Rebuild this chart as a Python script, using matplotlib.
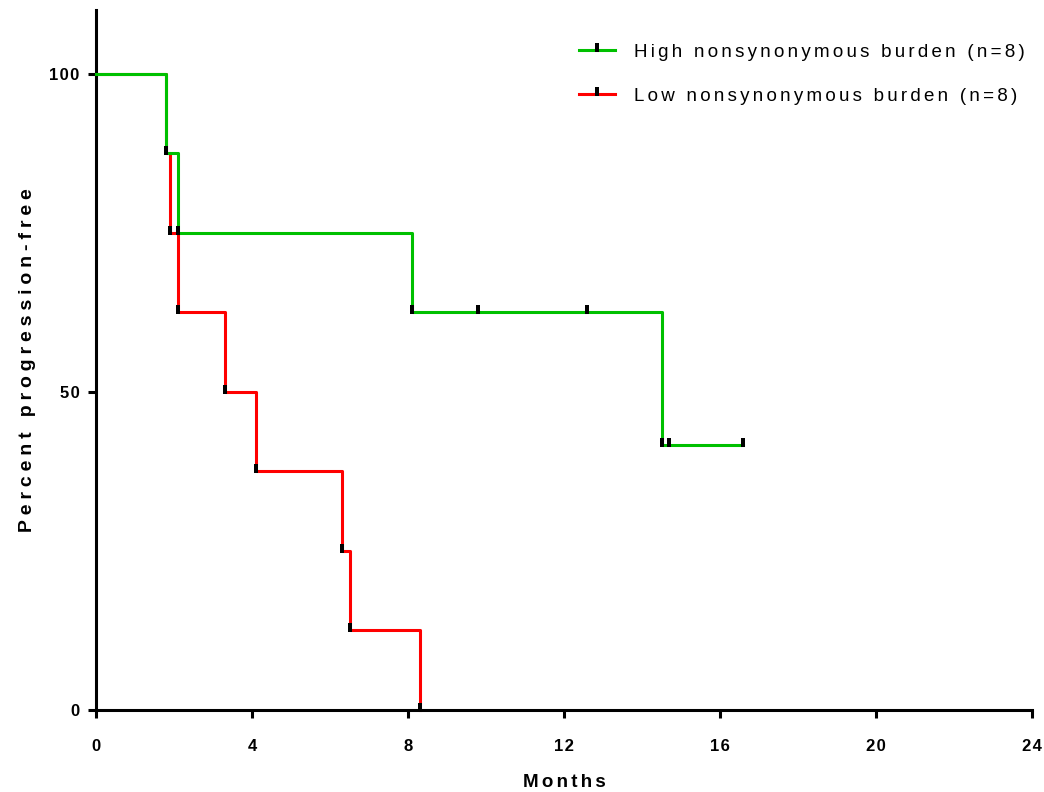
import matplotlib
matplotlib.use("Agg")
import matplotlib.pyplot as plt
from matplotlib.path import Path
from matplotlib.lines import Line2D

plt.rcParams['font.family'] = ['Liberation Sans', 'DejaVu Sans']

# Kaplan-Meier steps (months, percent progression-free)
high_t = [0, 1.8, 2.1, 8.1, 9.8, 12.6, 14.5, 14.7, 16.6]
high_s = [100, 87.5, 75, 62.5, 62.5, 62.5, 41.67, 41.67, 41.67]
low_t = [0, 1.8, 1.9, 2.1, 3.3, 4.1, 6.3, 6.5, 8.3]
low_s = [100, 87.5, 75, 62.5, 50, 37.5, 25, 12.5, 0]

high_label = 'High nonsynonymous burden (n=8)'
low_label = 'Low nonsynonymous burden (n=8)'
x_ticks = [0, 4, 8, 12, 16, 20, 24]
y_ticks = [0, 50, 100]

green = '#00c000'
red = '#ff0000'

HAIR = '\u200a'


def spaced(s, n=1):
    # mimic the loose letter spacing of the original
    return (HAIR * n).join(s)


# small black tick mark used at each data point
mark = Path([(-0.35, -0.25), (0.35, -0.25), (0.35, 1), (-0.35, 1), (-0.35, -0.25)],
            [Path.MOVETO, Path.LINETO, Path.LINETO, Path.LINETO, Path.CLOSEPOLY])

fig = plt.figure(figsize=(10.44, 7.92), dpi=100)
ax = fig.add_axes([0.092, 0.1035, 0.8965, 0.8839])

ax.plot(low_t, low_s, drawstyle='steps-post', color=red, lw=2.2, zorder=2, clip_on=False)
ax.plot(high_t, high_s, drawstyle='steps-post', color=green, lw=2.2, zorder=3, clip_on=False)
ax.plot(low_t[1:], low_s[1:], ls='none', marker=mark, ms=9.5, color='black',
        mec='black', mew=0, zorder=4, clip_on=False)
ax.plot(high_t[1:], high_s[1:], ls='none', marker=mark, ms=9.5, color='black',
        mec='black', mew=0, zorder=4, clip_on=False)

ax.set_xlim(0, 24)
ax.set_ylim(0, 110)
ax.set_xticks(x_ticks)
ax.set_xticklabels([spaced(str(v)) for v in x_ticks])
ax.set_yticks(y_ticks)
ax.set_yticklabels([spaced(str(v)) for v in y_ticks])
ax.spines['top'].set_visible(False)
ax.spines['right'].set_visible(False)
for s in ['left', 'bottom']:
    ax.spines[s].set_linewidth(2.2)
ax.tick_params(axis='both', width=2.2, length=6, direction='out')
ax.tick_params(axis='x', pad=15, labelsize=12)
ax.tick_params(axis='y', pad=6, labelsize=12)
for lab in ax.get_xticklabels() + ax.get_yticklabels():
    lab.set_fontweight('bold')

ax.set_xlabel(spaced('Months', 2), fontsize=13.5, fontweight='bold', labelpad=14)
ax.set_ylabel(spaced('Percent progression-free', 3), fontsize=14, fontweight='bold')
ax.yaxis.set_label_coords(-0.064, 0.5)

handles = [
    Line2D([], [], color=green, lw=2.2, marker=mark, ms=9.5, mfc='black', mec='black', mew=0),
    Line2D([], [], color=red, lw=2.2, marker=mark, ms=9.5, mfc='black', mec='black', mew=0),
]
ax.legend(handles, [spaced(high_label, 2), spaced(low_label, 2)], loc='upper right',
          frameon=False, numpoints=1, fontsize=13.5, handlelength=1.9, handletextpad=1.0,
          labelspacing=1.45, bbox_to_anchor=(1.0, 0.963), borderaxespad=0.0)

fig.savefig('out.png', dpi=100)
